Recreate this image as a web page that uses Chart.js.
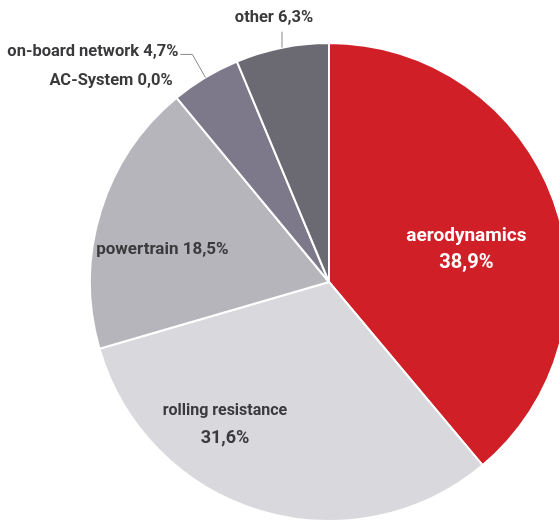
<!DOCTYPE html>
<html>
<head>
<meta charset="utf-8">
<script src="https://cdn.jsdelivr.net/npm/chart.js@4.4.0/dist/chart.umd.min.js"></script>
<style>
    html, body { margin: 0; padding: 0; background: #fff; overflow: hidden; }
    #wrap { position: absolute; left: 0; top: 0; width: 700px; height: 600px; }
</style>
</head>
<body>
<div id="wrap"><canvas id="energy-pie" width="700" height="600"></canvas></div>
<script>
// Dados do gráfico
const categories = ['aerodynamics', 'rolling resistance', 'powertrain', 'AC-System', 'on-board network', 'other'];
const shares = [38.9, 31.6, 18.5, 0.0, 4.7, 6.3];
const sliceColors = ['#d11f27', '#d9d8dd', '#b6b5bb', '#9a98a2', '#7d798b', '#6b6a73'];

// Posição dos rótulos (estilo): dentro = ângulo/fração do raio, fora = linha guia
const labelStyle = [
    { mode: 'inside', angle: 77, frac: 0.59, color: '#ffffff', twoLines: true, size: 19, size2: 20 },
    { mode: 'inside', angle: 216, frac: 0.74, color: '#3a3a3c', twoLines: true, size: 16, size2: 18 },
    { mode: 'inside', angle: 281, frac: 0.71, color: '#3a3a3c', twoLines: false, size: 17 },
    { mode: 'outside', leader: [], textDx: -4, textDy: -17, align: 'right', size: 16.5 },
    { mode: 'outside', leader: [[-13, -23], [-25, -23]], textDx: -27, textDy: -26, align: 'right', size: 16.5 },
    { mode: 'outside', leader: [[0, -16]], textDx: -8, textDy: -30, align: 'center', size: 16.5 }
];

function fmt(v) {
    return v.toFixed(1).replace('.', ',') + '%';
}

const pieLabels = {
    id: 'pieLabels',
    afterDatasetsDraw(chart) {
        const ctx = chart.ctx;
        const meta = chart.getDatasetMeta(0);
        ctx.save();
        ctx.textBaseline = 'middle';
        meta.data.forEach((arc, i) => {
            const st = labelStyle[i];
            const cx = arc.x, cy = arc.y, r = arc.outerRadius;
            ctx.font = 'bold ' + st.size + 'px Roboto';
            if (st.mode === 'inside') {
                const a = st.angle * Math.PI / 180;
                const x = cx + Math.sin(a) * r * st.frac;
                const y = cy - Math.cos(a) * r * st.frac;
                ctx.fillStyle = st.color;
                ctx.textAlign = 'center';
                if (st.twoLines) {
                    ctx.fillText(categories[i], x, y - 14);
                    ctx.font = 'bold ' + st.size2 + 'px Roboto';
                    ctx.fillText(fmt(shares[i]), x, y + 13);
                } else {
                    ctx.fillText(categories[i] + ' ' + fmt(shares[i]), x, y);
                }
            } else {
                const mid = (arc.startAngle + arc.endAngle) / 2;
                const px = cx + Math.cos(mid) * r;
                const py = cy + Math.sin(mid) * r;
                if (st.leader.length) {
                    ctx.strokeStyle = '#8a8a8e';
                    ctx.lineWidth = 1;
                    ctx.beginPath();
                    ctx.moveTo(px, py);
                    st.leader.forEach(p => ctx.lineTo(px + p[0], py + p[1]));
                    ctx.stroke();
                }
                ctx.fillStyle = '#3a3a3c';
                ctx.textAlign = st.align;
                ctx.fillText(categories[i] + ' ' + fmt(shares[i]), px + st.textDx, py + st.textDy);
            }
        });
        ctx.restore();
    }
};

new Chart(document.getElementById('energy-pie'), {
    type: 'pie',
    data: {
        labels: categories,
        datasets: [{
            data: shares,
            backgroundColor: sliceColors,
            borderColor: '#ffffff',
            borderWidth: 2
        }]
    },
    options: {
        responsive: false,
        animation: false,
        layout: { padding: { left: 89, top: 42, right: 131, bottom: 78 } },
        plugins: {
            legend: { display: false },
            tooltip: { enabled: false }
        }
    },
    plugins: [pieLabels]
});
</script>
</body>
</html>
